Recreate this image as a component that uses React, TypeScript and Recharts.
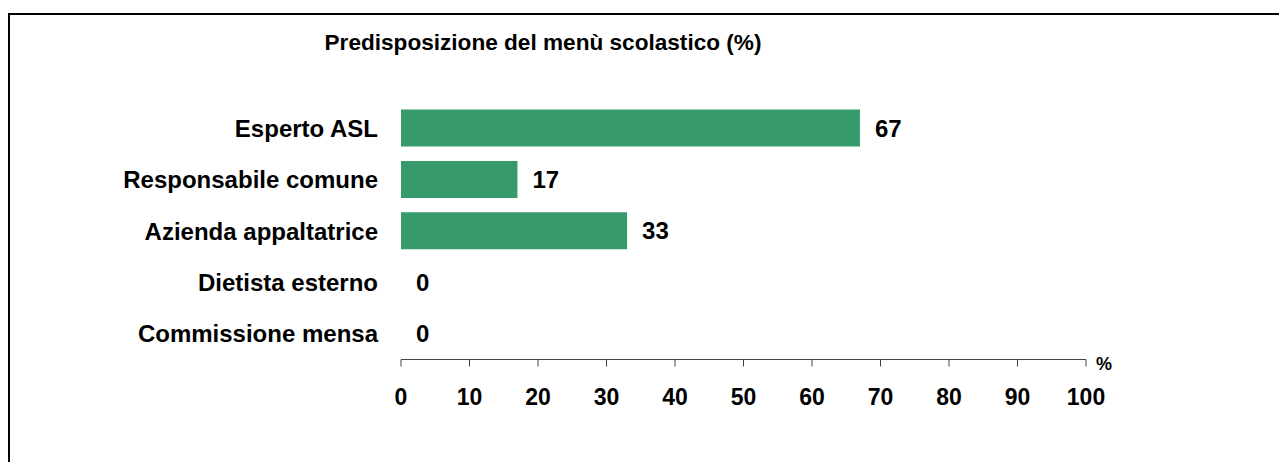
import React from 'react';
import { BarChart, Bar, XAxis, YAxis, LabelList, Label } from 'recharts';

const categories = ['Esperto ASL', 'Responsabile comune', 'Azienda appaltatrice', 'Dietista esterno', 'Commissione mensa'];
const values = [67, 17, 33, 0, 0];
const xTicks = [0, 10, 20, 30, 40, 50, 60, 70, 80, 90, 100];
const title = 'Predisposizione del menù scolastico (%)';
const unitLabel = '%';

const data = categories.map((c, i) => ({ name: c, value: values[i] }));

const FONT = '"Liberation Sans", Arial, Helvetica, sans-serif';
const W = 1271;
const H = 454;

const UnitLabel = (props: any) => {
  const vb = props.viewBox || {};
  return (
    <text
      x={vb.x + vb.width + 10}
      y={vb.y + 10.5}
      fontFamily={FONT}
      fontWeight="bold"
      fontSize={18}
      fill="#000"
    >
      {unitLabel}
    </text>
  );
};

const ValueLabel = (props: any) => {
  const { x, y, width, height, value } = props;
  return (
    <text
      x={Number(x) + Number(width || 0) + 15}
      y={Number(y) + Number(height) / 2}
      dy="0.355em"
      textAnchor="start"
      fontFamily={FONT}
      fontWeight="bold"
      fontSize={24}
      fill="#000"
    >
      {value}
    </text>
  );
};

export default function App() {
  return (
    <div style={{ position: 'relative', width: W, height: H }}>
      <style>{`body{overflow:hidden}`}</style>
      <div
        style={{
          position: 'absolute',
          left: 0,
          top: 5,
          width: 1320,
          height: 500,
          border: '2px solid #000',
          boxSizing: 'border-box',
        }}
      />
      <svg width={W} height={H} style={{ position: 'absolute', left: 0, top: 0 }}>
        <text x={535} y={42} textAnchor="middle" fontFamily={FONT} fontWeight="bold" fontSize={22.6} fill="#000">
          {title}
        </text>
      </svg>
      <div style={{ position: 'absolute', left: 0, top: 0 }}>
        <BarChart
          width={W}
          height={H}
          data={data}
          layout="vertical"
          margin={{ top: 94.5, right: 193, bottom: 42.5, left: 93 }}
        >
          <XAxis
            type="number"
            domain={[0, 100]}
            ticks={xTicks}
            interval={0}
            height={60}
            tickSize={7}
            tickMargin={22}
            axisLine={{ stroke: '#444', strokeWidth: 1 }}
            tickLine={{ stroke: '#444', strokeWidth: 1 }}
            tick={{ fontFamily: FONT, fontWeight: 'bold', fontSize: 23, fill: '#000' }}
          >
            <Label content={<UnitLabel />} />
          </XAxis>
          <YAxis
            type="category"
            dataKey="name"
            width={300}
            axisLine={false}
            tickLine={false}
            tickSize={0}
            tickMargin={23}
            interval={0}
            tick={{ fontFamily: FONT, fontWeight: 'bold', fontSize: 24, fill: '#000' }}
          />
          <Bar dataKey="value" fill="#369A6A" barSize={37} minPointSize={0.01} isAnimationActive={false}>
            <LabelList dataKey="value" content={<ValueLabel />} />
          </Bar>
        </BarChart>
      </div>
    </div>
  );
}
